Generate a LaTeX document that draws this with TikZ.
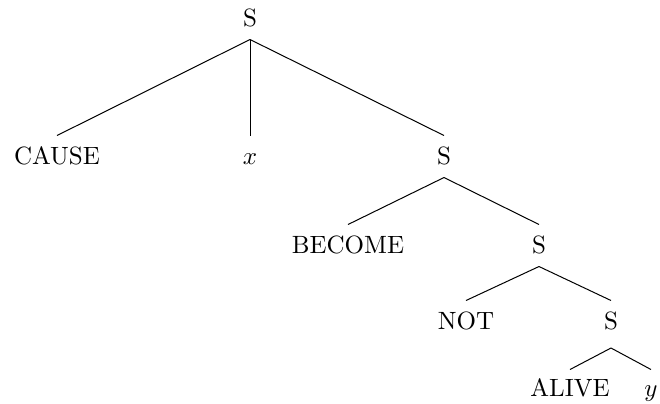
\documentclass[tikz,border=0pt]{standalone}
\usepackage{tikz}

\begin{document}
\begin{tikzpicture}[x=0.4pt,y=-0.4pt,
  cat/.style={anchor=base,inner sep=0pt,text height=11.2pt,text depth=5.2pt}]
  \useasboundingbox (0,0) rectangle (660,403);
  % nodes, placed by baseline
  \node[cat] (root) at (250,26) {S};
  \node[cat] (cause) at (57,164) {CAUSE};
  \node[cat] (xarg) at (250,164) {$x$};
  \node[cat] (s1) at (444,164) {S};
  \node[cat] (become) at (348,253) {BECOME};
  \node[cat] (s2) at (539,253) {S};
  \node[cat] (not) at (466,329) {NOT};
  \node[cat,text depth=7.4pt] (s3) at (611,329) {S};
  \node[cat,text height=10.4pt] (alive) at (570,396) {ALIVE};
  \node[cat,text height=10.4pt] (yarg) at (651,396) {$y$};
  % branches
  \draw (root.south) -- (cause.north);
  \draw (root.south) -- (xarg.north);
  \draw (root.south) -- (s1.north);
  \draw (s1.south) -- (become.north);
  \draw (s1.south) -- (s2.north);
  \draw (s2.south) -- (not.north);
  \draw (s2.south) -- (s3.north);
  \draw (s3.south) -- (alive.north);
  \draw (s3.south) -- (yarg.north);
\end{tikzpicture}
\end{document}
